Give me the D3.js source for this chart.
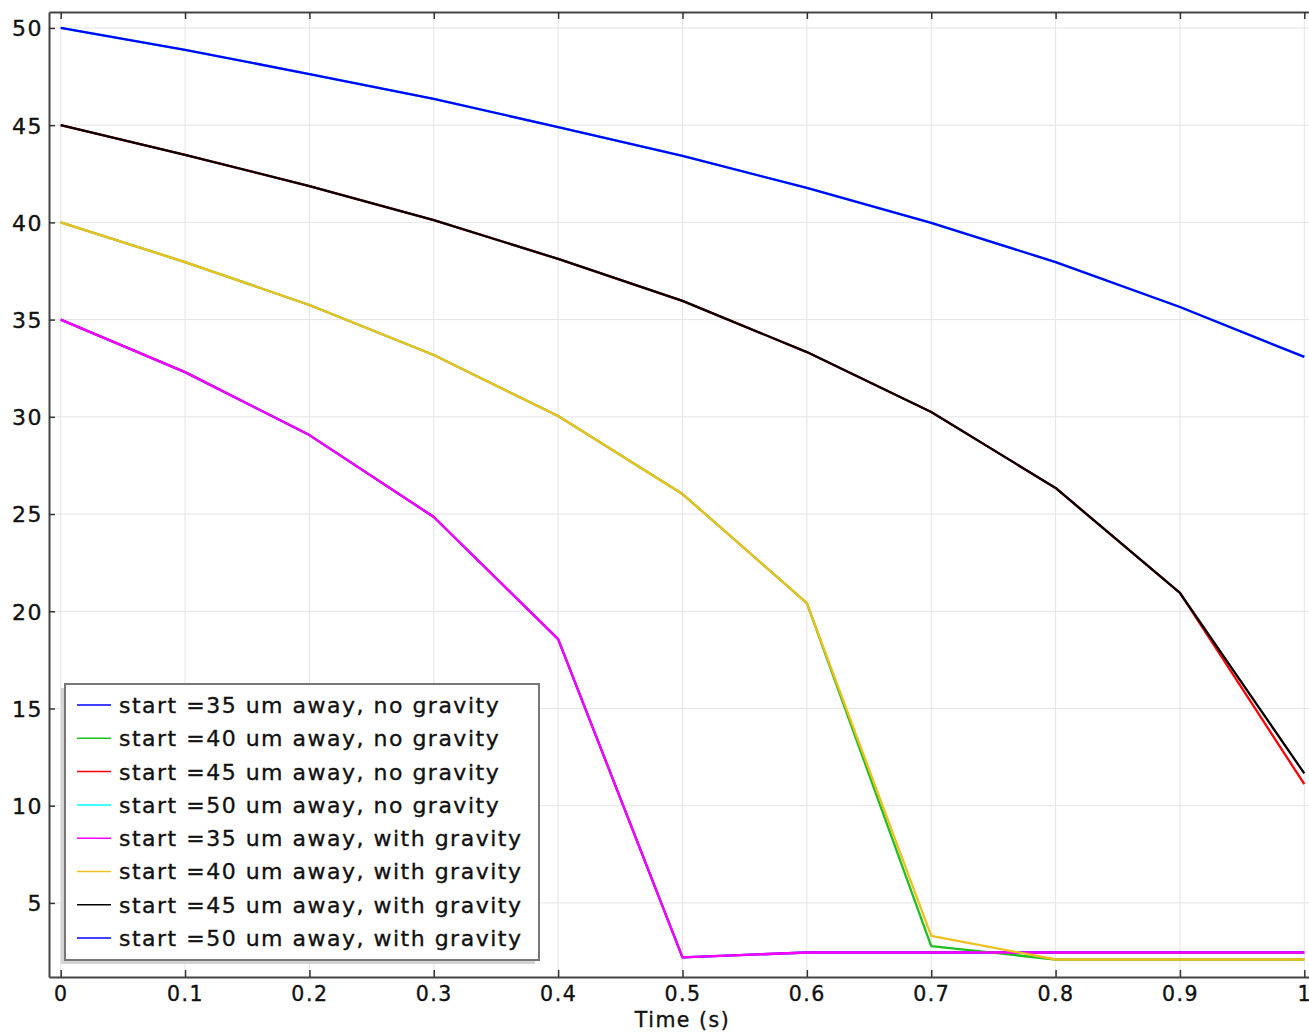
<!DOCTYPE html>
<html>
<head>
<meta charset="utf-8">
<script src="https://cdn.jsdelivr.net/npm/d3@7/dist/d3.min.js"></script>
<style>
  body { margin: 0; background: #fff; }
  svg { font-family: "DejaVu Sans", sans-serif; }
  .grid line { stroke: #e4e4e4; stroke-width: 1; }
  .lbl { font-size: 22px; letter-spacing: 1.5px; fill: #111; stroke: #111; stroke-width: 0.35px; }
</style>
</head>
<body>
<svg width="1309" height="1032"></svg>
<script>
var times = [0, 0.1, 0.2, 0.3, 0.4, 0.5, 0.6, 0.7, 0.8, 0.9, 1.0];

// no gravity
var ng35 = [35, 32.30, 29.06, 24.85, 18.57, 2.20, 2.45, 2.45, 2.45, 2.45, 2.45];
var ng40 = [40, 37.96, 35.75, 33.18, 30.04, 26.03, 20.42, 2.78, 2.09, 2.09, 2.09];
var ng45 = [45, 43.47, 41.87, 40.12, 38.12, 35.96, 33.33, 30.25, 26.34, 20.94, 11.11];
var ng50 = [50, 48.87, 47.63, 46.35, 44.90, 43.42, 41.77, 39.97, 37.96, 35.65, 33.08];
// with gravity
var wg35 = [35, 32.30, 29.06, 24.85, 18.57, 2.20, 2.45, 2.45, 2.45, 2.45, 2.45];
var wg40 = [40, 37.96, 35.75, 33.18, 30.04, 26.03, 20.42, 3.31, 2.09, 2.09, 2.09];
var wg45 = [45, 43.47, 41.87, 40.12, 38.12, 35.96, 33.33, 30.25, 26.34, 20.94, 11.66];
var wg50 = [50, 48.87, 47.63, 46.35, 44.90, 43.42, 41.77, 39.97, 37.96, 35.65, 33.08];

var names = ["start =35 um away, no gravity", "start =40 um away, no gravity",
             "start =45 um away, no gravity", "start =50 um away, no gravity",
             "start =35 um away, with gravity", "start =40 um away, with gravity",
             "start =45 um away, with gravity", "start =50 um away, with gravity"];
var colors = ["#0000ff", "#1fbf1f", "#ff0000", "#00ffff", "#ff00ff", "#eebf20", "#000000", "#0000ff"];
var series = [ng35, ng40, ng45, ng50, wg35, wg40, wg45, wg50];

var xTicks = [0, 0.1, 0.2, 0.3, 0.4, 0.5, 0.6, 0.7, 0.8, 0.9, 1];
var yTicks = [5, 10, 15, 20, 25, 30, 35, 40, 45, 50];

var svg = d3.select("svg"),
    pLeft = 49, pTop = 12, pRight = 1316, pBottom = 977;

var x = d3.scaleLinear().domain([-0.0094, 1.0094]).range([pLeft, pRight]),
    y = d3.scaleLinear().domain([1.19, 50.82]).range([pBottom, pTop]);

// grid
var grid = svg.append("g").attr("class", "grid");
grid.selectAll(".gx").data(xTicks).enter().append("line")
    .attr("x1", function(d) { return x(d); }).attr("x2", function(d) { return x(d); })
    .attr("y1", pTop).attr("y2", pBottom);
grid.selectAll(".gy").data(yTicks).enter().append("line")
    .attr("x1", pLeft).attr("x2", pRight)
    .attr("y1", function(d) { return y(d); }).attr("y2", function(d) { return y(d); });

// lines
var line = d3.line()
    .x(function(d, i) { return x(times[i]); })
    .y(function(d) { return y(d); });

svg.selectAll(".series").data(series).enter().append("path")
    .attr("class", "series")
    .attr("fill", "none")
    .attr("stroke", function(d, i) { return colors[i]; })
    .attr("stroke-width", 2.3)
    .attr("stroke-linejoin", "round")
    .attr("d", line);

// axes
var axB = svg.append("g").attr("transform", "translate(0," + pBottom + ")")
    .call(d3.axisBottom(x).tickValues(xTicks).tickSizeInner(-7).tickSizeOuter(0)
      .tickFormat(function(d) { return d === 0 ? "0" : d === 1 ? "1" : d3.format(".1f")(d); }));
var axT = svg.append("g").attr("transform", "translate(0," + pTop + ")")
    .call(d3.axisTop(x).tickValues(xTicks).tickSizeInner(-7).tickSizeOuter(0).tickFormat(""));
var axL = svg.append("g").attr("transform", "translate(" + pLeft + ",0)")
    .call(d3.axisLeft(y).tickValues(yTicks).tickSizeInner(-6).tickSizeOuter(0).tickPadding(6));

[axB, axT, axL].forEach(function(a) {
  a.select(".domain").attr("stroke", "#444").attr("stroke-width", 2);
  a.selectAll(".tick line").attr("stroke", "#333").attr("stroke-width", 1.5);
  a.selectAll("text").attr("fill", "#111").attr("stroke", "#111").attr("stroke-width", 0.35)
    .style("font-family", "DejaVu Sans").style("letter-spacing", "1.5px");
});
axB.selectAll("text").style("font-size", "20.5px").attr("y", 9).attr("dy", "0.71em");
axL.selectAll("text").style("font-size", "22px").attr("x", -6).attr("dy", "0.36em");

svg.append("text")
    .attr("x", (x(0) + x(1)) / 2).attr("y", 1027)
    .attr("text-anchor", "middle")
    .style("font-size", "20.5px").style("letter-spacing", "1.5px")
    .attr("fill", "#111").attr("stroke", "#111").attr("stroke-width", 0.35)
    .text("Time (s)");

// legend
var lg = svg.append("g");
lg.append("rect").attr("x", 61).attr("y", 688).attr("width", 474).attr("height", 276)
    .attr("fill", "#d4d4d4");
lg.append("rect").attr("x", 65).attr("y", 684).attr("width", 474).attr("height", 276)
    .attr("fill", "#fff").attr("stroke", "#777").attr("stroke-width", 2);

var rows = lg.selectAll(".row").data(names).enter().append("g")
    .attr("transform", function(d, i) { return "translate(0," + (705 + i * 33.3) + ")"; });
rows.append("line").attr("x1", 77).attr("x2", 111).attr("y1", 0).attr("y2", 0)
    .attr("stroke", function(d, i) { return colors[i]; }).attr("stroke-width", 1.5);
rows.append("text").attr("class", "lbl").attr("x", 119).attr("dy", "0.36em")
    .text(function(d) { return d; });
</script>
</body>
</html>
